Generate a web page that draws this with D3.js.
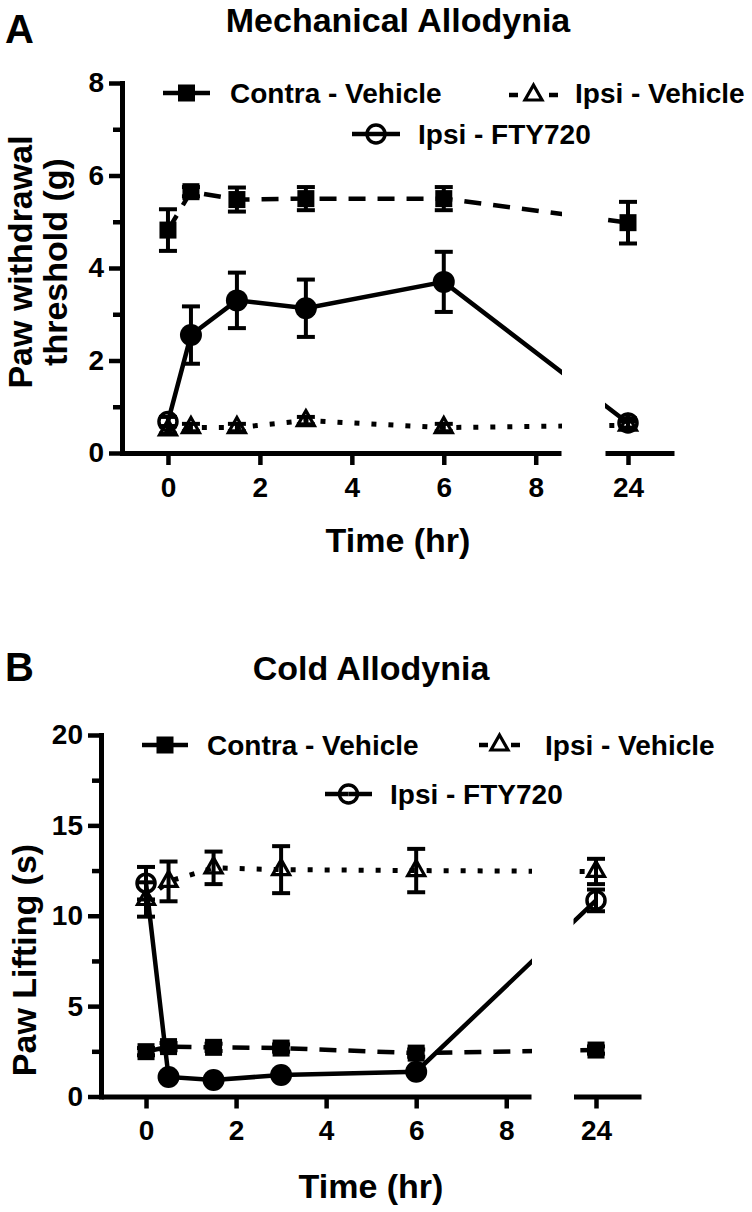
<!DOCTYPE html>
<html>
<head>
<meta charset="utf-8">
<script src="https://cdn.jsdelivr.net/npm/d3@7"></script>
<style>
  body { margin: 0; background: #fff; }
  svg { display: block; }
</style>
</head>
<body>
<div id="chart"></div>
<script>
// time points (hr)
const times = [0, 0.5, 1.5, 3, 6, 24];
const seriesNames = ['Contra - Vehicle', 'Ipsi - Vehicle', 'Ipsi - FTY720'];

// A: mechanical allodynia, paw withdrawal threshold (g)
const mechContraMean = [4.82, 5.65, 5.48, 5.5, 5.5, 4.98];
const mechContraSem = [0.45, 0.1, 0.26, 0.25, 0.25, 0.45];
const mechIpsiVehMean = [0.5, 0.55, 0.55, 0.7, 0.55, 0.6];
const mechIpsiVehSem = [0.08, 0.08, 0.08, 0.08, 0.08, 0.08];
const mechFtyMean = [0.68, 2.55, 3.3, 3.13, 3.7, 0.65];
const mechFtySem = [0.1, 0.62, 0.6, 0.62, 0.65, 0.1];
const mechFtySig = [false, true, true, true, true, false];

// B: cold allodynia, paw lifting (s)
const coldContraMean = [2.48, 2.76, 2.72, 2.68, 2.4, 2.57];
const coldContraSem = [0.2, 0.2, 0.2, 0.2, 0.2, 0.2];
const coldIpsiVehMean = [10.9, 11.9, 12.65, 12.55, 12.5, 12.45];
const coldIpsiVehSem = [0.95, 1.1, 0.9, 1.3, 1.2, 0.7];
const coldFtyMean = [11.8, 1.08, 0.91, 1.19, 1.37, 10.85];
const coldFtySem = [0.9, 0.2, 0.15, 0.2, 0.2, 0.6];
const coldFtySig = [false, true, true, true, true, false];

const xTicksEarly = [0, 2, 4, 6, 8];
const xTicksLate = [24];
const mechYTicks = [0, 2, 4, 6, 8];
const mechYMinor = [1, 3, 5, 7];
const coldYTicks = [0, 5, 10, 15, 20];
const coldYMinor = [2.5, 7.5, 12.5, 17.5];

const font = '"Liberation Sans", Arial, Helvetica, sans-serif';
const breakAt = 8.55;

const svg = d3.select('#chart').append('svg')
  .attr('width', 752)
  .attr('height', 1212);

function marker(sel, type, cx, cy, filled) {
  if (type === 'square') {
    sel.append('rect')
      .attr('x', cx - 8.5).attr('y', cy - 8.5)
      .attr('width', 17).attr('height', 17)
      .attr('fill', '#000');
  } else if (type === 'triangle') {
    const s = 17; const h = 15;
    sel.append('path')
      .attr('d', `M${cx},${cy - (h * 2) / 3}L${cx + s / 2},${cy + h / 3}L${cx - s / 2},${cy + h / 3}Z`)
      .attr('fill', 'none').attr('stroke', '#000').attr('stroke-width', 3.2);
  } else if (filled) {
    sel.append('circle').attr('cx', cx).attr('cy', cy).attr('r', 11).attr('fill', '#000');
  } else {
    sel.append('circle').attr('cx', cx).attr('cy', cy).attr('r', 9)
      .attr('fill', 'none').attr('stroke', '#000').attr('stroke-width', 3.5);
  }
}

function drawPanel(p) {
  const g = svg.append('g');
  const x1 = d3.scaleLinear().domain([-1, breakAt]).range(p.x1Range);
  const x2 = d3.scaleLinear().domain([23.5, 25]).range(p.x2Range);
  const x = (t) => (t <= breakAt ? x1(t) : x2(t));
  const y = d3.scaleLinear().domain(p.yDomain).range(p.yRange);

  const series = [
    { name: seriesNames[0], mean: p.contraMean, sem: p.contraSem, type: 'square', dash: '17,12', width: 4.5 },
    { name: seriesNames[1], mean: p.ipsiVehMean, sem: p.ipsiVehSem, type: 'triangle', dash: '5,12', width: 5 },
    { name: seriesNames[2], mean: p.ftyMean, sem: p.ftySem, sig: p.ftySig, type: 'circle', dash: null, width: 4.5 },
  ];

  // clip the lines at the broken x axis
  const clip = svg.append('clipPath').attr('id', `clip-${p.id}`);
  clip.append('rect').attr('x', 0).attr('y', 0)
    .attr('width', p.x1Range[1] + 1).attr('height', 1212);
  clip.append('rect').attr('x', p.x2Range[0]).attr('y', 0)
    .attr('width', 752 - p.x2Range[0]).attr('height', 1212);

  // axes
  const yAxis = g.append('g')
    .attr('transform', `translate(${p.x1Range[0]},0)`)
    .call(d3.axisLeft(y).tickValues(p.yTicks).tickSize(13).tickSizeOuter(0).tickPadding(5));
  g.append('g')
    .attr('transform', `translate(${p.x1Range[0]},0)`)
    .call(d3.axisLeft(y).tickValues(p.yMinor).tickSize(9).tickFormat(''))
    .call((a) => a.select('.domain').remove());
  const xAxis1 = g.append('g')
    .attr('transform', `translate(0,${p.yRange[0]})`)
    .call(d3.axisBottom(x1).tickValues(xTicksEarly).tickSize(12).tickSizeOuter(0).tickPadding(12));
  const xAxis2 = g.append('g')
    .attr('transform', `translate(0,${p.yRange[0]})`)
    .call(d3.axisBottom(x2).tickValues(xTicksLate).tickFormat(d3.format('d'))
      .tickSize(12).tickSizeOuter(0).tickPadding(12));

  g.selectAll('.domain').attr('stroke', '#000').attr('stroke-width', 5);
  yAxis.select('.domain').attr('stroke-linecap', 'square');
  g.selectAll('.tick line').attr('stroke', '#000').attr('stroke-width', 4.5);
  [yAxis, xAxis1, xAxis2].forEach((a) => {
    a.attr('font-family', font).attr('font-size', 28).attr('font-weight', 'bold');
    a.selectAll('text').attr('fill', '#000');
  });

  // connecting lines
  const line = d3.line().x((d) => x(d.t)).y((d) => y(d.v));
  const lines = g.append('g').attr('clip-path', `url(#clip-${p.id})`);
  series.forEach((s) => {
    lines.append('path')
      .datum(times.map((t, i) => ({ t, v: s.mean[i] })))
      .attr('d', line)
      .attr('fill', 'none')
      .attr('stroke', '#000')
      .attr('stroke-width', s.width)
      .attr('stroke-dasharray', s.dash);
  });

  // error bars
  const bars = g.append('g').attr('stroke', '#000').attr('stroke-width', 4);
  series.forEach((s) => {
    times.forEach((t, i) => {
      const cx = x(t);
      const top = y(s.mean[i] + s.sem[i]);
      const bot = y(s.mean[i] - s.sem[i]);
      bars.append('line').attr('x1', cx).attr('x2', cx).attr('y1', top).attr('y2', bot);
      bars.append('line').attr('x1', cx - 9).attr('x2', cx + 9).attr('y1', top).attr('y2', top);
      bars.append('line').attr('x1', cx - 9).attr('x2', cx + 9).attr('y1', bot).attr('y2', bot);
    });
  });

  // markers
  const marks = g.append('g');
  series.forEach((s) => {
    times.forEach((t, i) => {
      marker(marks, s.type, x(t), y(s.mean[i]), s.sig ? s.sig[i] : true);
    });
  });

  // legend: short line stubs either side of the symbol
  const leg = g.append('g');
  series.forEach((s, i) => {
    const l = p.legend[i];
    const cx = (l.x0 + l.x1) / 2;
    const stub = s.dash === '5,12' ? 9 : (l.x1 - l.x0) / 2;
    [[l.x0, l.x0 + stub], [l.x1 - stub, l.x1]].forEach(([a, b]) => {
      leg.append('line')
        .attr('x1', a).attr('x2', b).attr('y1', l.cy).attr('y2', l.cy)
        .attr('stroke', '#000').attr('stroke-width', 4.5);
    });
    marker(leg, s.type, cx, l.cy, false);
    leg.append('text')
      .attr('x', l.tx).attr('y', l.ty)
      .attr('font-family', font).attr('font-size', 28).attr('font-weight', 'bold')
      .text(s.name);
  });

  // titles and labels
  g.append('text')
    .attr('x', 5).attr('y', p.letterY)
    .attr('font-family', font).attr('font-size', 40).attr('font-weight', 'bold')
    .text(p.letter);
  g.append('text')
    .attr('x', p.centerX).attr('y', p.titleY)
    .attr('text-anchor', 'middle')
    .attr('font-family', font).attr('font-size', 34).attr('font-weight', 'bold')
    .text(p.title);
  g.append('text')
    .attr('x', p.centerX).attr('y', p.xLabelY)
    .attr('text-anchor', 'middle')
    .attr('font-family', font).attr('font-size', 34).attr('font-weight', 'bold')
    .text('Time (hr)');
  p.yLabel.forEach((txt, i) => {
    g.append('text')
      .attr('transform', `translate(${p.yLabelX[i]},${p.yLabelCY}) rotate(-90)`)
      .attr('text-anchor', 'middle')
      .attr('font-family', font).attr('font-size', 34).attr('font-weight', 'bold')
      .text(txt);
  });
}

drawPanel({
  id: 'a',
  letter: 'A',
  letterY: 43,
  title: 'Mechanical Allodynia',
  titleY: 32,
  centerX: 398,
  xLabelY: 552,
  yLabel: ['Paw withdrawal', 'threshold (g)'],
  yLabelX: [32, 67],
  yLabelCY: 262,
  x1Range: [122, 561],
  x2Range: [605, 674],
  yDomain: [0, 8],
  yRange: [453, 83],
  yTicks: mechYTicks,
  yMinor: mechYMinor,
  contraMean: mechContraMean,
  contraSem: mechContraSem,
  ipsiVehMean: mechIpsiVehMean,
  ipsiVehSem: mechIpsiVehSem,
  ftyMean: mechFtyMean,
  ftySem: mechFtySem,
  ftySig: mechFtySig,
  legend: [
    { x0: 163, x1: 210, cy: 93, tx: 230, ty: 103 },
    { x0: 509, x1: 558, cy: 95, tx: 575, ty: 103 },
    { x0: 352, x1: 400, cy: 134, tx: 418, ty: 144 },
  ],
});

drawPanel({
  id: 'b',
  letter: 'B',
  letterY: 681,
  title: 'Cold Allodynia',
  titleY: 680,
  centerX: 371,
  xLabelY: 1198,
  yLabel: ['Paw Lifting (s)'],
  yLabelX: [36],
  yLabelCY: 960,
  x1Range: [101, 531],
  x2Range: [573.5, 641],
  yDomain: [0, 20],
  yRange: [1096.5, 735],
  yTicks: coldYTicks,
  yMinor: coldYMinor,
  contraMean: coldContraMean,
  contraSem: coldContraSem,
  ipsiVehMean: coldIpsiVehMean,
  ipsiVehSem: coldIpsiVehSem,
  ftyMean: coldFtyMean,
  ftySem: coldFtySem,
  ftySig: coldFtySig,
  legend: [
    { x0: 142, x1: 188, cy: 745, tx: 207, ty: 755 },
    { x0: 479, x1: 520, cy: 745, tx: 545, ty: 755 },
    { x0: 325, x1: 372, cy: 794, tx: 390, ty: 804 },
  ],
});
</script>
</body>
</html>
